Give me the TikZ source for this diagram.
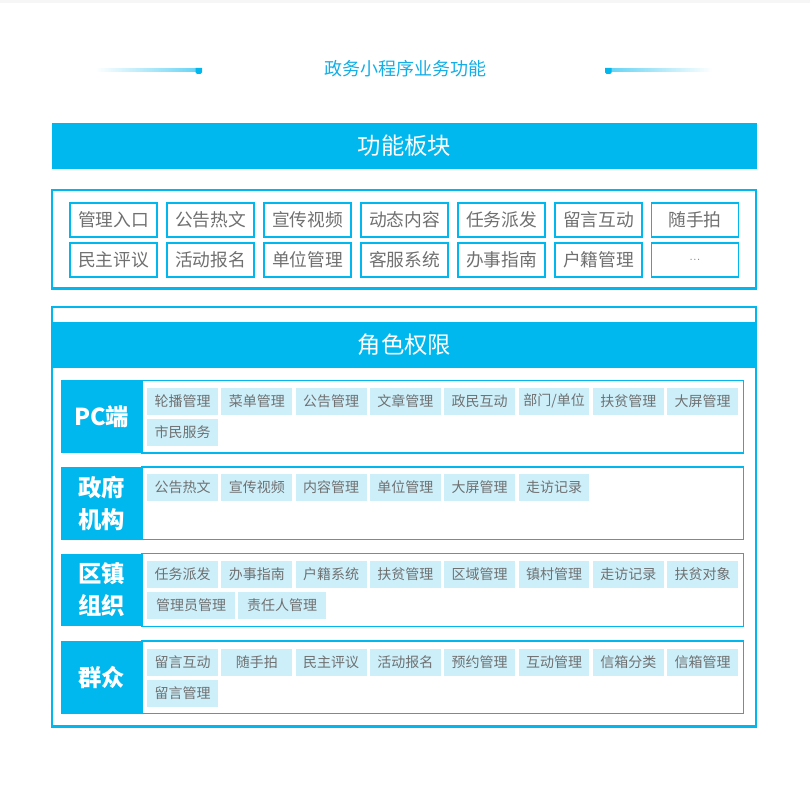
\documentclass[tikz,border=0pt]{standalone}
\usepackage{fontspec}
\setmainfont{Noto Sans CJK SC}
\definecolor{govblue}{HTML}{00B7EE}
\definecolor{titleblue}{HTML}{13AEE6}
\definecolor{textgray}{HTML}{707070}
\definecolor{tagfill}{HTML}{CCEFFA}
\definecolor{topgray}{HTML}{F6F6F6}
\begin{document}
\begin{tikzpicture}[x=0.75pt,y=0.75pt,yscale=-1,xscale=1,
  headbar/.style={fill=govblue, draw=none},
  headtext/.style={text=white, font=\fontsize{17.5pt}{20pt}\selectfont},
  outerbox/.style={draw=govblue, line width=1.6pt},
  itembox/.style={draw=govblue, line width=1.1pt, fill=white, text=textgray, minimum width=65pt, minimum height=25.5pt, inner sep=0pt, font=\fontsize{13.3pt}{16pt}\selectfont},
  rolebox/.style={draw=govblue, line width=0.8pt},
  rolelabel/.style={fill=govblue, text=white, minimum width=60.5pt, minimum height=54.5pt, inner sep=0pt, align=center, font=\fontsize{17.5pt}{24pt}\selectfont\bfseries},
  tagbox/.style={fill=tagfill, text=textgray, minimum width=53.2pt, minimum height=20pt, inner sep=0pt, font=\fontsize{10.5pt}{12pt}\selectfont},
  widetag/.style={tagbox, minimum width=66pt}
]
\useasboundingbox (0,0) rectangle (810,787);
%top strip
\fill[topgray] (0,0) rectangle (810,3);

%Title
\node[text=titleblue, font=\fontsize{13.5pt}{16pt}\selectfont] (title) at (405,69) {政务小程序业务功能};
%left ornament
\shade[left color=white, right color=govblue!60] (95,68.5) rectangle (198,71.2);
\fill[govblue] (195.5,68) -- (202,68) -- (202,72.5) -- (200.5,74) -- (197,74) -- (195.5,72.5) -- cycle;
%right ornament
\shade[left color=govblue!60, right color=white] (610,68.5) rectangle (712,71.2);
\fill[govblue] (605,68) -- (611.5,68) -- (611.5,72.5) -- (610,74) -- (606.5,74) -- (605,72.5) -- cycle;

%Header: function blocks
\fill[headbar] (52,123) rectangle (757,169);
\node[headtext] (fnhead) at (404.5,146) {功能板块};

%Function box
\draw[outerbox] (52,190) rectangle (756,288.5);
\node[itembox] (f11) at (113.5,220) {管理入口};
\node[itembox] (f12) at (210.5,220) {公告热文};
\node[itembox] (f13) at (307.5,220) {宣传视频};
\node[itembox] (f14) at (404.5,220) {动态内容};
\node[itembox] (f15) at (501.5,220) {任务派发};
\node[itembox] (f16) at (598.5,220) {留言互动};
\node[itembox] (f17) at (695,220) {随手拍};
\node[itembox] (f21) at (113.5,260) {民主评议};
\node[itembox] (f22) at (210.5,260) {活动报名};
\node[itembox] (f23) at (307.5,260) {单位管理};
\node[itembox] (f24) at (404.5,260) {客服系统};
\node[itembox] (f25) at (501.5,260) {办事指南};
\node[itembox] (f26) at (598.5,260) {户籍管理};
\node[itembox, font=\fontsize{8pt}{10pt}\selectfont] (f27) at (695,260) {$\cdot\!\cdot\!\cdot$};

%Role box
\draw[outerbox] (52,307) rectangle (756,726.5);
\fill[headbar] (52,322) rectangle (757,368);
\node[headtext] (rolehead) at (404.5,345) {角色权限};

%Row: PC
\draw[rolebox] (142,380.5) rectangle (743.5,453);
\node[rolelabel] (pc) at (101.5,416.7) {PC端};
\node[tagbox] (pc1) at (182.5,401.3) {轮播管理};
\node[tagbox] (pc2) at (256.8,401.3) {菜单管理};
\node[tagbox] (pc3) at (331.1,401.3) {公告管理};
\node[tagbox] (pc4) at (405.4,401.3) {文章管理};
\node[tagbox] (pc5) at (479.7,401.3) {政民互动};
\node[tagbox] (pc6) at (554,401.3) {部门/单位};
\node[tagbox] (pc7) at (628.3,401.3) {扶贫管理};
\node[tagbox] (pc8) at (702.6,401.3) {大屏管理};
\node[tagbox] (pc9) at (182.5,432.3) {市民服务};

%Row: government
\draw[rolebox] (142,467) rectangle (743.5,539.5);
\node[rolelabel] (gov) at (101.5,503.2) {政府\\机构};
\node[tagbox] (gov1) at (182.5,487.3) {公告热文};
\node[tagbox] (gov2) at (256.8,487.3) {宣传视频};
\node[tagbox] (gov3) at (331.1,487.3) {内容管理};
\node[tagbox] (gov4) at (405.4,487.3) {单位管理};
\node[tagbox] (gov5) at (479.7,487.3) {大屏管理};
\node[tagbox] (gov6) at (554,487.3) {走访记录};

%Row: district and town
\draw[rolebox] (142,553.5) rectangle (743.5,626.5);
\node[rolelabel] (town) at (101.5,590) {区镇\\组织};
\node[tagbox] (town1) at (182.5,574.3) {任务派发};
\node[tagbox] (town2) at (256.8,574.3) {办事指南};
\node[tagbox] (town3) at (331.1,574.3) {户籍系统};
\node[tagbox] (town4) at (405.4,574.3) {扶贫管理};
\node[tagbox] (town5) at (479.7,574.3) {区域管理};
\node[tagbox] (town6) at (554,574.3) {镇村管理};
\node[tagbox] (town7) at (628.3,574.3) {走访记录};
\node[tagbox] (town8) at (702.6,574.3) {扶贫对象};
\node[widetag] (town9) at (191,605.3) {管理员管理};
\node[widetag] (town10) at (282,605.3) {责任人管理};

%Row: public
\draw[rolebox] (142,641) rectangle (743.5,713.5);
\node[rolelabel] (pub) at (101.5,677.2) {群众};
\node[tagbox] (pub1) at (182.5,662.3) {留言互动};
\node[tagbox] (pub2) at (256.8,662.3) {随手拍};
\node[tagbox] (pub3) at (331.1,662.3) {民主评议};
\node[tagbox] (pub4) at (405.4,662.3) {活动报名};
\node[tagbox] (pub5) at (479.7,662.3) {预约管理};
\node[tagbox] (pub6) at (554,662.3) {互动管理};
\node[tagbox] (pub7) at (628.3,662.3) {信箱分类};
\node[tagbox] (pub8) at (702.6,662.3) {信箱管理};
\node[tagbox] (pub9) at (182.5,693.3) {留言管理};

\end{tikzpicture}
\end{document}
